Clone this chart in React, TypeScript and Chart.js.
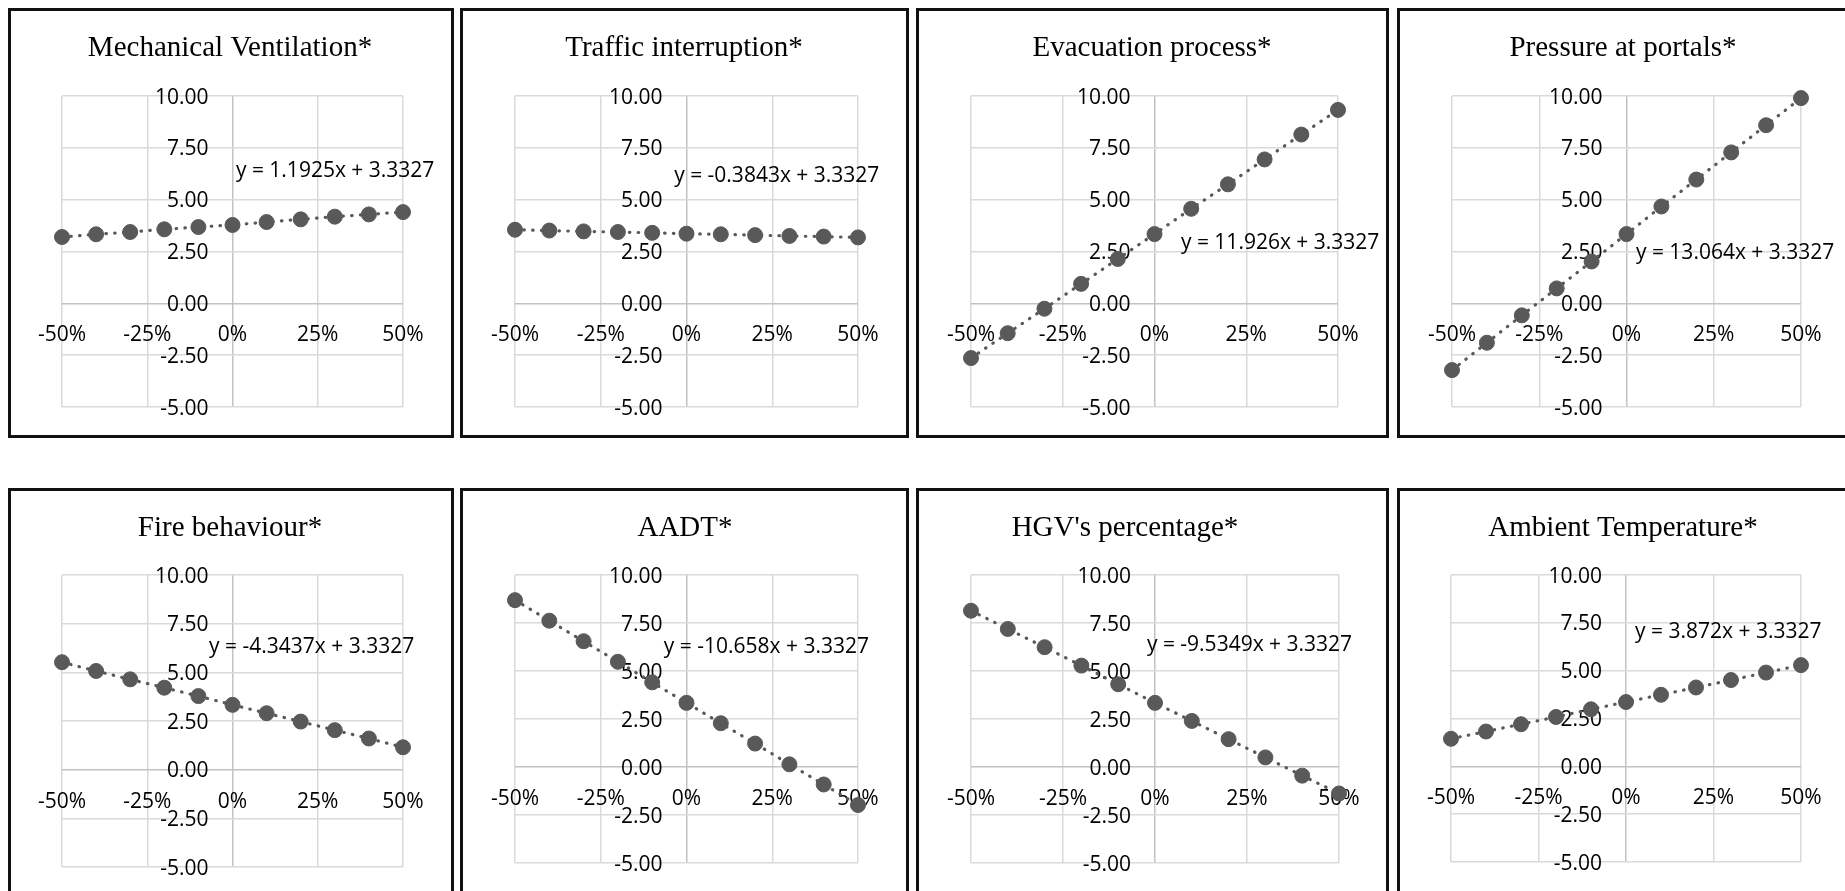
import React, { useEffect, useRef } from 'react';
import { Chart, registerables } from 'chart.js';

Chart.register(...registerables);

// Parameter variation steps (fraction of the base value)
const variation = [-0.5, -0.4, -0.3, -0.2, -0.1, 0, 0.1, 0.2, 0.3, 0.4, 0.5];

// Axis ticks
const xTicks = [-0.5, -0.25, 0, 0.25, 0.5];
const xTickLabels = ['-50%', '-25%', '0%', '25%', '50%'];
const yTicks = [10, 7.5, 5, 2.5, 0, -2.5, -5];
const yTickLabels = ['10.00', '7.50', '5.00', '2.50', '0.00', '-2.50', '-5.00'];

// Panel titles
const titles = [
  'Mechanical Ventilation*',
  'Traffic interruption*',
  'Evacuation process*',
  'Pressure at portals*',
  'Fire behaviour*',
  'AADT*',
  "HGV's percentage*",
  'Ambient Temperature*',
];

// Model output for each parameter
const mechanicalVentilation = [3.2, 3.33, 3.44, 3.57, 3.68, 3.78, 3.92, 4.05, 4.18, 4.29, 4.4];
const trafficInterruption = [3.55, 3.51, 3.47, 3.44, 3.4, 3.36, 3.33, 3.29, 3.25, 3.22, 3.18];
const evacuationProcess = [-2.64, -1.44, -0.26, 0.94, 2.14, 3.34, 4.56, 5.74, 6.94, 8.14, 9.33];
const pressureAtPortals = [-3.22, -1.9, -0.58, 0.72, 2.02, 3.34, 4.67, 5.97, 7.28, 8.59, 9.9];
const fireBehaviour = [5.52, 5.07, 4.64, 4.21, 3.78, 3.33, 2.9, 2.47, 2.03, 1.6, 1.15];
const aadt = [8.69, 7.62, 6.55, 5.48, 4.41, 3.34, 2.28, 1.22, 0.14, -0.91, -1.98];
const hgvPercentage = [8.14, 7.19, 6.24, 5.28, 4.31, 3.34, 2.4, 1.45, 0.5, -0.45, -1.38];
const ambientTemperature = [1.44, 1.82, 2.2, 2.58, 2.98, 3.36, 3.74, 4.12, 4.51, 4.9, 5.29];

const series = [
  mechanicalVentilation,
  trafficInterruption,
  evacuationProcess,
  pressureAtPortals,
  fireBehaviour,
  aadt,
  hgvPercentage,
  ambientTemperature,
];

// Linear trend line equations
const equations = [
  'y = 1.1925x + 3.3327',
  'y = -0.3843x + 3.3327',
  'y = 11.926x + 3.3327',
  'y = 13.064x + 3.3327',
  'y = -4.3437x + 3.3327',
  'y = -10.658x + 3.3327',
  'y = -9.5349x + 3.3327',
  'y = 3.872x + 3.3327',
];

// Page layout of each framed panel: outer box, plot rectangle, title anchor,
// and the equation anchor in data units (x, y).
const frames = [
  { box: [8, 8, 446, 430], plot: [62, 96, 403, 407], title: [230, 56], eq: [0.01, 6.09] },
  { box: [460, 8, 449, 430], plot: [515, 96, 858, 407], title: [684, 56], eq: [-0.036, 5.85] },
  { box: [916, 8, 473, 430], plot: [971, 96, 1338, 407], title: [1152, 56], eq: [0.072, 2.62] },
  { box: [1397, 8, 473, 430], plot: [1452, 96, 1801, 407], title: [1623, 56], eq: [0.027, 2.14] },
  { box: [8, 488, 446, 430], plot: [62, 575, 403, 867], title: [230, 536], eq: [-0.069, 6.0] },
  { box: [460, 488, 449, 430], plot: [515, 575, 858, 863], title: [685, 536], eq: [-0.066, 5.94] },
  { box: [916, 488, 473, 430], plot: [971, 575, 1339, 863], title: [1125, 536], eq: [-0.022, 6.04] },
  { box: [1397, 488, 473, 430], plot: [1451, 575, 1801, 862], title: [1623, 536], eq: [0.026, 6.72] },
];

const BORDER = 3;
const LABEL_FONT = '21px "Open Sans"';
const TITLE_FONT = '29px "Liberation Serif", "Times New Roman", serif';
const MARK = '#595959';

const panelText = {
  id: 'panelText',
  beforeDatasetsDraw(chart: any) {
    const ctx = chart.ctx;
    const xs = chart.scales.x;
    const ys = chart.scales.y;
    const x0 = xs.getPixelForValue(0);
    const y0 = ys.getPixelForValue(0);
    ctx.save();
    ctx.fillStyle = '#000';
    ctx.font = LABEL_FONT;
    ctx.textBaseline = 'alphabetic';
    ctx.textAlign = 'right';
    yTicks.forEach((v, i) => {
      ctx.fillText(yTickLabels[i], x0 - 24, ys.getPixelForValue(v) + 7.5);
    });
    ctx.textAlign = 'center';
    xTicks.forEach((v, i) => {
      ctx.fillText(xTickLabels[i], xs.getPixelForValue(v), y0 + 38);
    });
    ctx.restore();
  },
  afterDatasetsDraw(chart: any, _args: any, opts: any) {
    const ctx = chart.ctx;
    const xs = chart.scales.x;
    const ys = chart.scales.y;
    ctx.save();
    ctx.fillStyle = '#000';
    ctx.textBaseline = 'alphabetic';
    ctx.font = LABEL_FONT;
    ctx.textAlign = 'left';
    ctx.fillText(opts.equation, xs.getPixelForValue(opts.eqX), ys.getPixelForValue(opts.eqY));
    ctx.font = TITLE_FONT;
    ctx.textAlign = 'center';
    ctx.fillText(opts.title, opts.titleX, opts.titleY);
    ctx.restore();
  },
};

function Panel({ index }: { index: number }) {
  const ref = useRef<HTMLCanvasElement | null>(null);
  const f = frames[index];
  const [bx, by, bw, bh] = f.box;
  const cx = bx + BORDER;
  const cy = by + BORDER;
  const cw = bw - 2 * BORDER;
  const ch = bh - 2 * BORDER;

  useEffect(() => {
    if (!ref.current) return;
    const [px0, py0, px1, py1] = f.plot;
    const gridColor = (c: any) => (c.tick && c.tick.value === 0 ? '#c2c2c2' : '#dadada');
    const chart = new Chart(ref.current, {
      type: 'line',
      data: {
        datasets: [
          {
            data: variation.map((x, i) => ({ x, y: series[index][i] })),
            borderColor: MARK,
            borderWidth: 3.2,
            borderDash: [0.5, 8.3],
            borderCapStyle: 'round',
            backgroundColor: MARK,
            pointBackgroundColor: MARK,
            pointBorderColor: MARK,
            pointRadius: 7.5,
            pointBorderWidth: 1,
            tension: 0,
            fill: false,
            clip: false,
          },
        ],
      },
      options: {
        responsive: false,
        animation: false,
        events: [],
        layout: {
          padding: {
            left: px0 - cx,
            top: py0 - cy,
            right: cx + cw - px1,
            bottom: cy + ch - py1,
          },
        },
        scales: {
          x: {
            type: 'linear',
            min: -0.5,
            max: 0.5,
            ticks: { display: false, stepSize: 0.25 },
            grid: { drawTicks: false, color: gridColor, lineWidth: 1.5 },
            border: { display: false },
          },
          y: {
            type: 'linear',
            min: -5,
            max: 10,
            ticks: { display: false, stepSize: 2.5 },
            grid: { drawTicks: false, color: gridColor, lineWidth: 1.5 },
            border: { display: false },
          },
        },
        plugins: {
          legend: { display: false },
          tooltip: { enabled: false },
          title: { display: false },
          panelText: {
            title: titles[index],
            titleX: f.title[0] - cx,
            titleY: f.title[1] - cy,
            equation: equations[index],
            eqX: f.eq[0],
            eqY: f.eq[1],
          },
        } as any,
      },
      plugins: [panelText],
    } as any);
    return () => chart.destroy();
  }, [index]);

  return (
    <>
      <div
        style={{
          position: 'absolute',
          left: bx,
          top: by,
          width: bw,
          height: bh,
          boxSizing: 'border-box',
          border: `${BORDER}px solid #111`,
          background: '#fff',
        }}
      />
      <canvas
        ref={ref}
        width={cw}
        height={ch}
        style={{ position: 'absolute', left: cx, top: cy, width: cw, height: ch }}
      />
    </>
  );
}

export default function App() {
  return (
    <div
      style={{
        position: 'absolute',
        left: 0,
        top: 0,
        width: 1845,
        height: 891,
        overflow: 'hidden',
        background: '#fff',
      }}
    >
      {frames.map((_, i) => (
        <Panel key={i} index={i} />
      ))}
    </div>
  );
}
